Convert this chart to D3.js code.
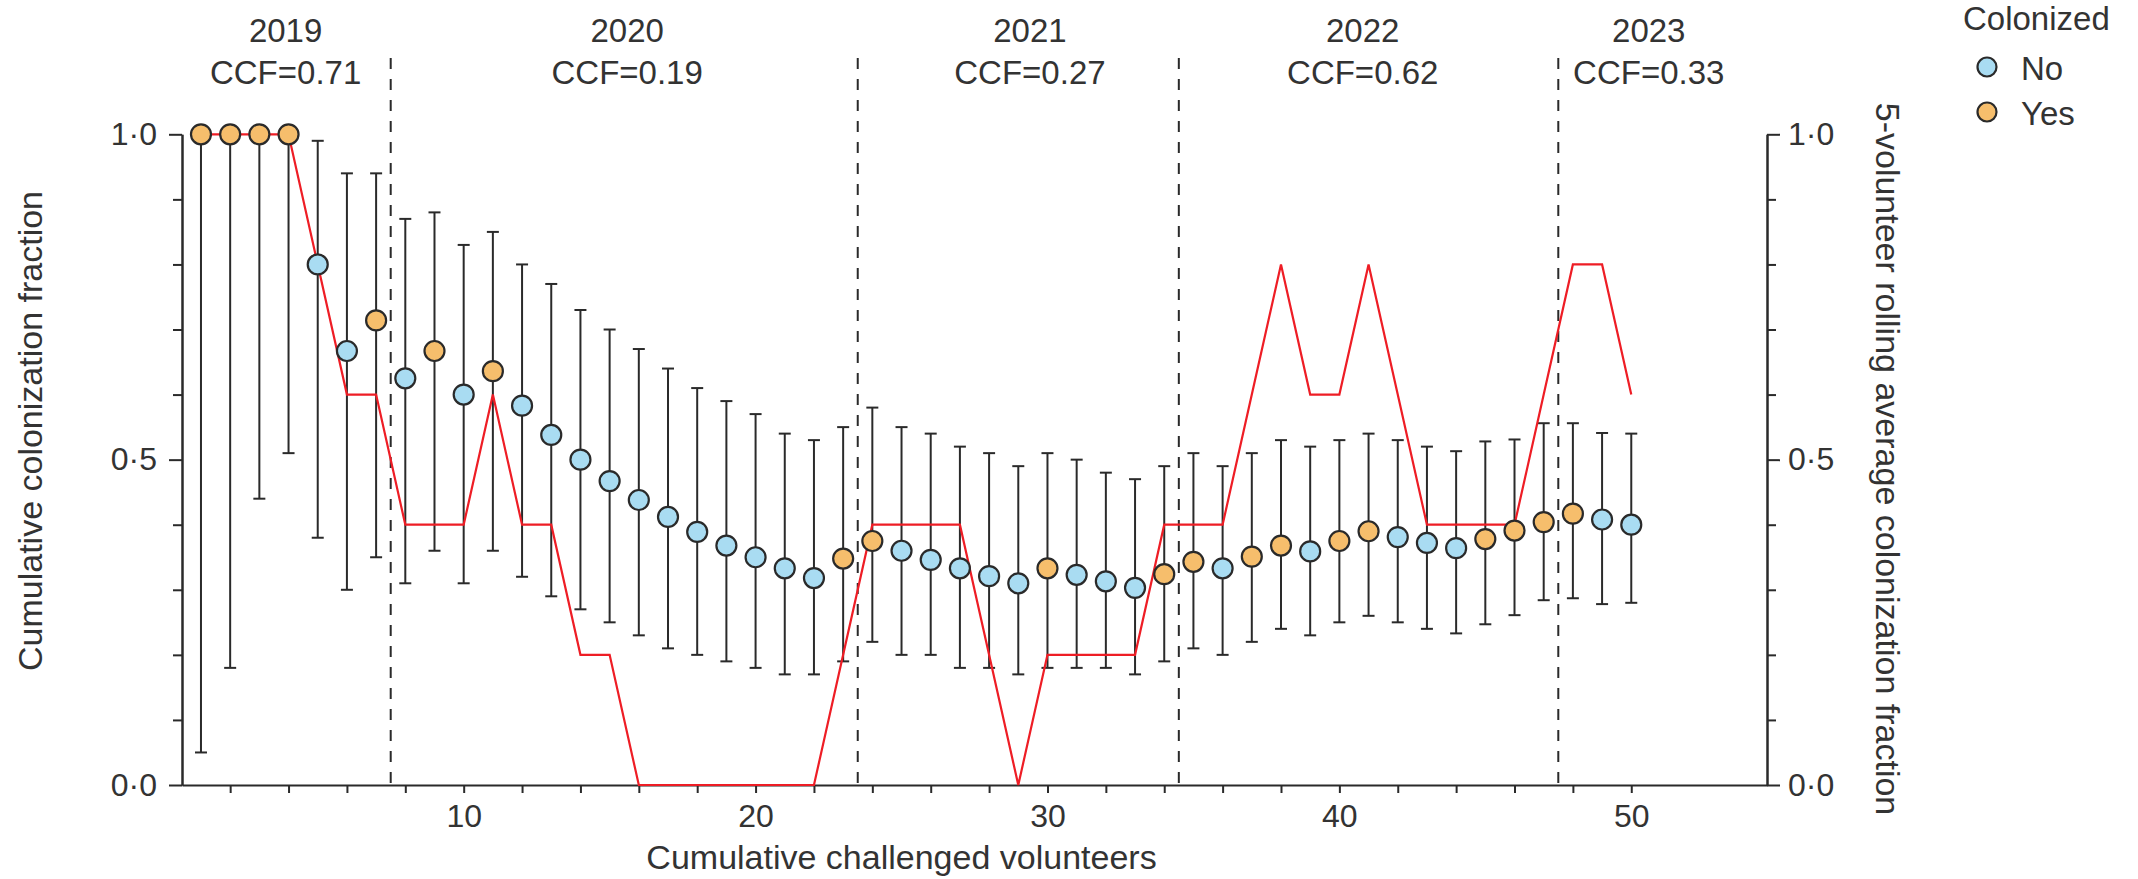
<!DOCTYPE html>
<html>
<head>
<meta charset="utf-8">
<script src="https://cdn.jsdelivr.net/npm/d3@7"></script>
<style>
  body { margin: 0; background: #fff; }
  text { font-family: "Liberation Sans", Arial, Helvetica, sans-serif; fill: #333; }
</style>
</head>
<body>
<svg id="chart" width="2138" height="879"></svg>
<script>
// Cumulative challenged volunteers (x) and their outcomes
const volunteers = [1,2,3,4,5,6,7,8,9,10,11,12,13,14,15,16,17,18,19,20,21,22,23,24,25,
                    26,27,28,29,30,31,32,33,34,35,36,37,38,39,40,41,42,43,44,45,46,47,48,49,50];
const colonized = ["Yes","Yes","Yes","Yes","No","No","Yes","No","Yes","No","Yes","No","No","No","No",
                   "No","No","No","No","No","No","No","Yes","Yes","No","No","No","No","No","Yes",
                   "No","No","No","Yes","Yes","No","Yes","Yes","No","Yes","Yes","No","No","No","Yes",
                   "Yes","Yes","Yes","No","No"];
// Cumulative colonization fraction with its 95% interval
const cumFraction = [1.000,1.000,1.000,1.000,0.800,0.667,0.714,0.625,0.667,0.600,0.636,0.583,0.538,0.500,0.467,
                     0.438,0.412,0.389,0.368,0.350,0.333,0.318,0.348,0.375,0.360,0.346,0.333,0.321,0.310,0.333,
                     0.323,0.313,0.303,0.324,0.343,0.333,0.351,0.368,0.359,0.375,0.390,0.381,0.372,0.364,0.378,
                     0.391,0.404,0.417,0.408,0.400];
const ciLower = [0.05,0.18,0.44,0.51,0.38,0.30,0.35,0.31,0.36,0.31,0.36,0.32,0.29,0.27,0.25,
                 0.23,0.21,0.20,0.19,0.18,0.17,0.17,0.19,0.22,0.20,0.20,0.18,0.18,0.17,0.18,
                 0.18,0.18,0.17,0.19,0.21,0.20,0.22,0.24,0.23,0.25,0.26,0.25,0.24,0.233,0.247,
                 0.261,0.284,0.287,0.278,0.280];
const ciUpper = [1.00,1.00,1.00,1.00,0.99,0.94,0.94,0.87,0.88,0.83,0.85,0.80,0.77,0.73,0.70,
                 0.67,0.64,0.61,0.59,0.57,0.54,0.53,0.55,0.58,0.55,0.54,0.52,0.51,0.49,0.51,
                 0.50,0.48,0.47,0.49,0.51,0.49,0.51,0.53,0.52,0.53,0.54,0.53,0.52,0.513,0.528,
                 0.531,0.556,0.556,0.541,0.540];
// 5-volunteer rolling average colonization fraction (right axis)
const rollingAvg = [1,1,1,1,0.8,0.6,0.6,0.4,0.4,0.4,0.6,0.4,0.4,0.2,0.2,
                    0,0,0,0,0,0,0,0.2,0.4,0.4,0.4,0.4,0.2,0,0.2,
                    0.2,0.2,0.2,0.4,0.4,0.4,0.6,0.8,0.6,0.6,0.8,0.6,0.4,0.4,0.4,
                    0.4,0.6,0.8,0.8,0.6];
// Study years: boundaries between cohorts and their labels
const yearBoundaries = [7.5, 23.5, 34.5, 47.5];
const yearLabels = ["2019","2020","2021","2022","2023"];
const ccfLabels = ["CCF=0.71","CCF=0.19","CCF=0.27","CCF=0.62","CCF=0.33"];
const yearLabelAt = [3.9, 15.6, 29.4, 40.8, 50.6];
// Axis ticks
const xTicks = [2,4,6,8,10,12,14,16,18,20,22,24,26,28,30,32,34,36,38,40,42,44,46,48,50];
const xTickLabels = [10,20,30,40,50];
const yMajorTicks = [0, 0.5, 1.0];
const yMinorTicks = [0.1,0.2,0.3,0.4,0.6,0.7,0.8,0.9];
const legendKeys = ["No","Yes"];

const fillColor = { No: "#a9dcf2", Yes: "#f6be6c" };
const ink = "#2a2a2a";

const svg = d3.select("#chart");
const plot = { left: 182, right: 1767, top: 134.3, bottom: 785 };

const x = d3.scaleLinear().domain([0.35, 54.65]).range([plot.left, plot.right]);
const yLeft = d3.scaleLinear().domain([0, 1]).range([plot.bottom, plot.top]);
const yRight = d3.scaleLinear().domain([0, 1]).range([plot.bottom, plot.top]);
const decimalDot = v => d3.format(".1f")(v).replace(".", "\u00B7");

const rows = volunteers.map((v, i) => ({
  v, col: colonized[i], frac: cumFraction[i], lo: ciLower[i], hi: ciUpper[i], roll: rollingAvg[i]
}));

// Year separators
svg.append("g").selectAll("line").data(yearBoundaries).join("line")
  .attr("x1", d => x(d)).attr("x2", d => x(d))
  .attr("y1", 58).attr("y2", plot.bottom)
  .attr("stroke", ink).attr("stroke-width", 2).attr("stroke-dasharray", "11,10");

// Year and CCF annotations
const ann = svg.append("g").attr("font-size", 33).attr("text-anchor", "middle");
ann.selectAll("text.year").data(yearLabels).join("text").attr("class", "year")
  .attr("x", (d, i) => x(yearLabelAt[i])).attr("y", 42).text(d => d);
ann.selectAll("text.ccf").data(ccfLabels).join("text").attr("class", "ccf")
  .attr("x", (d, i) => x(yearLabelAt[i])).attr("y", 84).text(d => d);

// Axes
function styleAxis(g, fontSize) {
  g.select(".domain").attr("stroke", ink).attr("stroke-width", 2);
  g.selectAll(".tick line").attr("stroke", ink).attr("stroke-width", 2);
  g.selectAll(".tick text").attr("font-size", fontSize).attr("fill", "#333")
    .attr("font-family", "'Liberation Sans', Arial, sans-serif");
}
const xAxis = svg.append("g").attr("transform", `translate(0,${plot.bottom})`)
  .call(d3.axisBottom(x).tickValues(xTicks).tickSize(8).tickSizeOuter(0).tickPadding(11)
    .tickFormat(d => xTickLabels.includes(d) ? String(d) : ""));
styleAxis(xAxis, 32);

const yAxisMinorL = svg.append("g").attr("transform", `translate(${plot.left},0)`)
  .call(d3.axisLeft(yLeft).tickValues(yMinorTicks).tickSize(9).tickSizeOuter(0).tickFormat(""));
styleAxis(yAxisMinorL, 32);
const yAxisL = svg.append("g").attr("transform", `translate(${plot.left},0)`)
  .call(d3.axisLeft(yLeft).tickValues(yMajorTicks).tickSize(13).tickSizeOuter(0).tickPadding(12).tickFormat(decimalDot));
styleAxis(yAxisL, 32);

const yAxisMinorR = svg.append("g").attr("transform", `translate(${plot.right},0)`)
  .call(d3.axisRight(yRight).tickValues(yMinorTicks).tickSize(9).tickSizeOuter(0).tickFormat(""));
styleAxis(yAxisMinorR, 32);
const yAxisR = svg.append("g").attr("transform", `translate(${plot.right},0)`)
  .call(d3.axisRight(yRight).tickValues(yMajorTicks).tickSize(13).tickSizeOuter(0).tickPadding(8).tickFormat(decimalDot));
styleAxis(yAxisR, 32);

// Axis titles
svg.append("text").attr("x", x(25)).attr("y", 869).attr("text-anchor", "middle")
  .attr("font-size", 34).text("Cumulative challenged volunteers");
svg.append("text").attr("transform", "translate(42,431) rotate(-90)").attr("text-anchor", "middle")
  .attr("font-size", 34).text("Cumulative colonization fraction");
svg.append("text").attr("transform", "translate(1876,459) rotate(90)").attr("text-anchor", "middle")
  .attr("font-size", 34).text("5-volunteer rolling average colonization fraction");

// Error bars
const bars = svg.append("g").attr("stroke", ink).attr("stroke-width", 2);
bars.selectAll("line.stem").data(rows).join("line").attr("class", "stem")
  .attr("x1", d => x(d.v)).attr("x2", d => x(d.v))
  .attr("y1", d => yLeft(d.lo)).attr("y2", d => yLeft(d.hi));
bars.selectAll("line.capLo").data(rows).join("line").attr("class", "capLo")
  .attr("x1", d => x(d.v) - 6).attr("x2", d => x(d.v) + 6)
  .attr("y1", d => yLeft(d.lo)).attr("y2", d => yLeft(d.lo));
bars.selectAll("line.capHi").data(rows).join("line").attr("class", "capHi")
  .attr("x1", d => x(d.v) - 6).attr("x2", d => x(d.v) + 6)
  .attr("y1", d => yLeft(d.hi)).attr("y2", d => yLeft(d.hi));

// Rolling average line
svg.append("path").datum(rows)
  .attr("fill", "none").attr("stroke", "#ee1d25").attr("stroke-width", 2.2)
  .attr("stroke-linejoin", "miter")
  .attr("d", d3.line().x(d => x(d.v)).y(d => yRight(d.roll)));

// Cumulative fraction points
svg.append("g").selectAll("circle").data(rows).join("circle")
  .attr("cx", d => x(d.v)).attr("cy", d => yLeft(d.frac)).attr("r", 10)
  .attr("fill", d => fillColor[d.col]).attr("stroke", ink).attr("stroke-width", 2.2);

// Legend
const legend = svg.append("g");
legend.append("text").attr("x", 1963).attr("y", 30).attr("font-size", 33).text("Colonized");
const item = legend.selectAll("g.item").data(legendKeys).join("g").attr("class", "item")
  .attr("transform", (d, i) => `translate(1987,${67 + i * 45})`);
item.append("circle").attr("r", 9.5).attr("fill", d => fillColor[d])
  .attr("stroke", ink).attr("stroke-width", 2.2);
item.append("text").attr("x", 34).attr("y", 13).attr("font-size", 33).text(d => d);
</script>
</body>
</html>
